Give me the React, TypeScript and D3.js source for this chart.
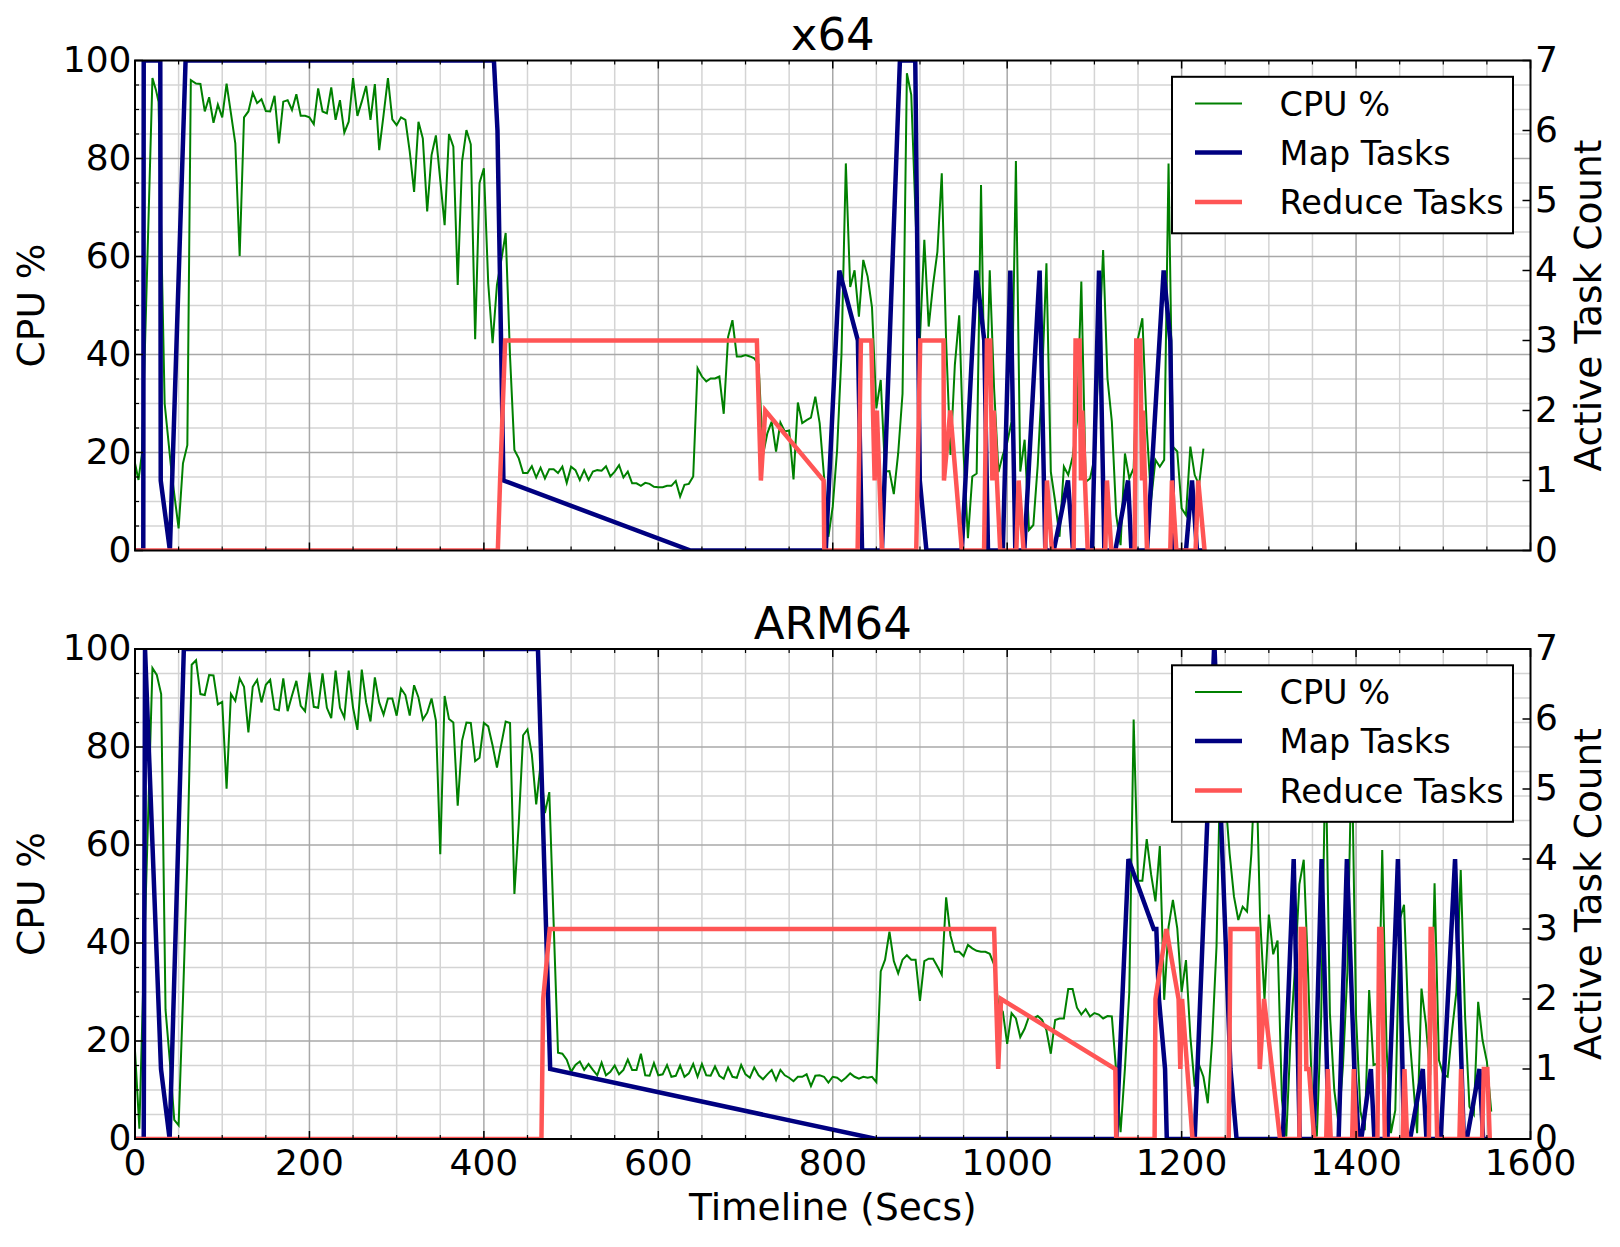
import React from 'react';
import * as d3 from 'd3';

type P = [number, number];

const xTicks = [0, 200, 400, 600, 800, 1000, 1200, 1400, 1600];
const cpuTicks = [0, 20, 40, 60, 80, 100];
const taskTicks = [0, 1, 2, 3, 4, 5, 6, 7];
const legendLabels = ['CPU %', 'Map Tasks', 'Reduce Tasks'];
const panelTitles = ['x64', 'ARM64'];

const x64Cpu: P[] = [[0,17.8],[4,14.4],[8,19.8],[20,96.4],[24,94],[27,91.6],[34,30],[42,15.8],[50,4.5],[55,17.8],[60,21.5],[64,96],[70,95.3],[75,95.2],[80,89.6],[85,92.5],[90,87.3],[95,91],[100,88.4],[105,95.3],[110,89.2],[115,83.1],[120,60.1],[125,88.4],[130,89.6],[135,93.4],[140,91.3],[145,92.1],[150,89.7],[155,89.6],[160,92.8],[165,83.1],[170,91.6],[175,91.9],[180,89.9],[185,93.1],[190,88.7],[195,88.7],[200,88.4],[205,87],[210,94.3],[215,89.6],[220,89.2],[225,94.5],[230,87.9],[235,91.9],[240,85.3],[245,87.5],[250,96.4],[255,88.7],[260,91.6],[265,94.8],[270,87.9],[275,95.2],[280,81.7],[285,88.9],[290,96.4],[295,88],[300,86.8],[305,88.4],[310,87.9],[315,81.4],[320,73.2],[325,87.5],[330,84.1],[335,69.2],[340,80.7],[345,84.7],[350,75.6],[355,66.4],[360,85],[365,82.4],[370,54.2],[375,79.4],[380,85.8],[385,82.9],[390,43.1],[395,75],[400,78],[405,54.5],[410,42.3],[415,54.2],[420,59.3],[425,64.8],[430,39.6],[435,20.5],[440,18.8],[445,15.8],[450,15.8],[455,17.2],[460,14.9],[465,16.9],[470,14.7],[475,16.6],[480,16.6],[485,15.8],[490,17.1],[495,13.8],[500,17.1],[505,16.4],[510,14.4],[515,16.4],[520,14.4],[525,16.1],[530,16.4],[535,16.3],[540,17.2],[545,15.1],[550,16.1],[555,17.4],[560,14.9],[565,16.1],[570,13.7],[575,13.7],[580,13.2],[585,13.8],[590,13.6],[595,13],[600,12.9],[605,12.9],[610,13.2],[615,13.2],[620,14.2],[625,11],[630,13.4],[635,13.6],[640,15.1],[645,37.2],[650,35.5],[655,34.5],[660,35.1],[665,35.1],[670,35.5],[675,27.9],[680,43.6],[685,47],[690,39.6],[695,39.6],[700,39.9],[705,39.6],[710,39.2],[715,38],[720,19.5],[725,23.9],[730,26.3],[735,20.2],[740,26.1],[745,24.3],[750,24.5],[755,14.5],[760,30.2],[765,26],[770,26.6],[775,27.1],[780,31.4],[785,26],[790,15.1],[795,2.8],[800,9],[805,20.5],[810,40],[815,79],[820,53.8],[825,57.2],[830,47.7],[835,59.3],[840,55.9],[845,49.6],[850,29],[855,34.8],[860,16.1],[865,16.2],[870,11.5],[875,19.8],[880,32],[885,97.4],[890,93],[895,68],[900,43.3],[905,63.4],[910,45.7],[915,54.2],[920,61],[925,77],[930,42.6],[935,19.5],[940,37.9],[945,48],[950,19.8],[955,2.5],[960,15.1],[965,15.7],[970,74.6],[975,22.9],[980,57.2],[985,33],[990,16],[995,19.5],[1000,22],[1005,26.3],[1010,79.5],[1015,16.1],[1020,22.6],[1025,4.2],[1030,5.2],[1035,17.4],[1040,35],[1045,58.6],[1050,16.1],[1055,10],[1060,2.8],[1065,17.1],[1070,15.4],[1075,19.1],[1080,26.3],[1085,54.9],[1090,14],[1095,14.7],[1100,18.8],[1105,40],[1110,61.3],[1115,35.1],[1120,26.3],[1125,7.2],[1130,1.1],[1135,19.8],[1140,14.7],[1145,16.8],[1150,43.3],[1155,47.4],[1160,25],[1165,10.3],[1170,18.5],[1175,17.1],[1180,18.5],[1185,79],[1190,21.2],[1195,20.2],[1200,8.6],[1205,7.2],[1210,21.2],[1215,15.4],[1220,13.4],[1225,20.8]];

const x64Map: P[] = [[0,0],[9.5,0],[10,7],[29,7],[29.5,1],[40,0],[58,7],[411.5,7],[415.6,6],[422.4,1],[637,0],[792,0],[807.5,4],[828.8,3],[833.6,0],[856.4,0],[877,7],[894.6,7],[899.8,1],[907.4,0],[948,0],[964.6,4],[973.7,3],[978,0],[995,0],[1003.6,4],[1009.3,0],[1019.6,0],[1037.2,4],[1043.7,0],[1053.4,0],[1069.7,1],[1075.4,0],[1097.3,0],[1105.3,4],[1111.4,0],[1124,0],[1138.6,1],[1142.4,0],[1160.3,0],[1179.4,4],[1187,3],[1190.9,0],[1205,0],[1211.9,1],[1217.6,0],[1226,0]];

const x64Reduce: P[] = [[0,0],[416,0],[418.6,1],[424.4,3],[713,3],[717.6,1],[722.6,2],[789.5,1],[790.3,0],[828.5,0],[832.3,3],[844.2,3],[848,1],[850.6,2],[856.4,0],[895.7,0],[900.3,3],[927,3],[927.5,1],[934.7,2],[948,0],[973.5,0],[976.8,3],[980.5,3],[983,1],[984.5,2],[992,0],[1010.5,0],[1013.1,1],[1018.8,0],[1043.7,0],[1045.6,1],[1051.3,0],[1076.2,0],[1078.4,3],[1083,3],[1084.6,1],[1086,2],[1092.3,0],[1112.5,0],[1114.4,1],[1119.4,0],[1146.1,0],[1148,3],[1152.6,3],[1154.6,1],[1155.6,2],[1160.3,0],[1187,0],[1188.9,1],[1194,0],[1216,0],[1219,1],[1226.3,0]];

const armCpu: P[] = [[0,18],[5,2.1],[10,35],[20,96.1],[25,94.7],[30,90.8],[35,26.4],[40,15.8],[45,3.9],[50,2.8],[55,28.5],[60,56.7],[65,96.8],[70,97.7],[75,90.8],[80,90.6],[85,94.7],[90,94.6],[95,88.7],[100,89.2],[105,71.5],[110,90.8],[115,89.4],[120,94],[125,92.3],[130,83],[135,92.3],[140,93.7],[145,89.1],[150,92.7],[155,93.7],[160,87.7],[165,87.5],[170,94],[175,87.3],[180,90.5],[185,93.5],[190,88.4],[195,87.3],[200,95.2],[205,88.2],[210,88],[215,95],[220,88],[225,85.9],[230,95.6],[235,88],[240,86],[245,95.6],[250,88],[255,83.5],[260,95.8],[265,89.1],[270,85.2],[275,94.2],[280,89.1],[285,86.6],[290,89.9],[295,89.9],[300,86.4],[305,91.9],[310,90.6],[315,86.4],[320,92.6],[325,90.1],[330,85.6],[335,87],[340,89.9],[345,85.4],[350,58.1],[355,90.4],[360,85.7],[365,85],[370,68],[375,81.3],[380,85],[385,84.9],[390,77.1],[395,77.8],[400,84.9],[405,84.2],[410,80.3],[415,75.8],[420,80.6],[425,85.2],[430,84.9],[435,50],[440,64.4],[445,82.4],[450,83.6],[455,78.5],[460,68.3],[465,76.4],[470,66.5],[475,70.8],[480,44],[485,17.6],[490,17.4],[495,16.2],[500,13.7],[505,15.1],[510,15.8],[515,14.1],[520,15.3],[525,14.1],[530,13],[535,15.6],[540,13],[545,13.7],[550,15],[555,13.2],[560,14.1],[565,16.2],[570,14.1],[575,14.1],[580,17.4],[585,13],[590,12.9],[595,15.5],[600,13],[605,13.2],[610,15.1],[615,12.7],[620,12.9],[625,15],[630,12.7],[635,13.4],[640,15.3],[645,12.7],[650,15.3],[655,13],[660,12.9],[665,14.8],[670,12.9],[675,12.3],[680,14.6],[685,12.7],[690,12.5],[695,15.1],[700,13.2],[705,12.5],[710,14.6],[715,13],[720,12.2],[725,13.2],[730,14.1],[735,12],[740,14.1],[745,13],[750,12.5],[755,11.8],[760,12.7],[765,12.7],[770,13.2],[775,10.8],[780,12.9],[785,13],[790,12.7],[795,11.5],[800,12.7],[805,12.5],[810,11.8],[815,12.5],[820,13.4],[825,12.7],[830,12.3],[835,12.7],[840,12.5],[845,12.7],[850,11.6],[855,34.2],[860,36.6],[865,42.3],[870,36.3],[875,33.8],[880,36.6],[885,37.5],[890,36.6],[895,36.6],[900,28.2],[905,36.3],[910,36.8],[915,36.8],[920,35.2],[925,33.5],[930,49.3],[935,41.5],[940,38.2],[945,38.2],[950,37.3],[955,39.6],[960,38.9],[965,38.4],[970,38.2],[975,38.2],[980,37.8],[985,35.6],[990,27],[995,26],[1000,19.4],[1005,25.7],[1010,24.6],[1015,20.8],[1020,22.5],[1025,25],[1030,24.6],[1035,25.1],[1040,24.3],[1045,22.2],[1050,17.4],[1055,24.3],[1060,24.6],[1065,24.6],[1070,30.6],[1075,30.6],[1080,26.8],[1085,25.4],[1090,26.5],[1095,25],[1100,25.7],[1105,25.4],[1110,24.6],[1115,25.1],[1120,25],[1125,13.7],[1130,1.4],[1135,14.4],[1140,30],[1145,85.6],[1150,52.7],[1155,52.7],[1160,61.2],[1165,54],[1170,48.5],[1175,59.8],[1180,28.4],[1185,43.3],[1190,48.8],[1195,43],[1200,30],[1205,36.5],[1210,20.9],[1215,10.7],[1220,15.1],[1225,12.7],[1230,7.3],[1235,20.2],[1240,39.3],[1245,82],[1250,70],[1255,58.3],[1260,49.5],[1265,44.7],[1270,47.4],[1275,46.4],[1280,58.3],[1285,80],[1290,45],[1295,28.5],[1300,45.8],[1305,37.7],[1310,40.5],[1315,8],[1320,0.5],[1325,21],[1330,35],[1335,52],[1340,57],[1345,34],[1350,6],[1355,0.5],[1360,25],[1365,80],[1370,25.6],[1375,10],[1380,3],[1385,15],[1390,34],[1395,80],[1400,25],[1405,5.6],[1410,1.8],[1415,30.4],[1420,15.1],[1425,15.4],[1430,59],[1435,18.5],[1440,1.2],[1445,5.9],[1450,44.7],[1455,47.8],[1460,24],[1465,12.7],[1470,1.2],[1475,30.7],[1480,23.6],[1485,13],[1490,52.2],[1495,16.1],[1500,13.1],[1505,12.7],[1510,22],[1515,30],[1520,54.9],[1525,25],[1530,6.6],[1535,5],[1540,28],[1545,20.2],[1550,15.8],[1555,5.6]];

const armMap: P[] = [[0,0],[10,0],[11.5,7],[29.8,1],[39.7,0],[56,7],[462,7],[476,1],[850,0],[1125,0],[1139,4],[1168,3],[1171,3],[1174,2],[1181,1],[1183,0],[1215,0],[1237.5,7.1],[1256,1],[1263,0],[1316,0],[1328.5,4],[1335.4,0],[1351.5,0],[1360.5,4],[1368.7,0],[1380,0],[1389.5,4],[1398,1],[1403,0],[1406,0],[1417,1],[1421,0],[1436,0],[1448,4],[1455,0],[1462,0],[1476.5,1],[1480.7,0],[1497,0],[1513.5,4],[1523.5,0],[1527,0],[1541.5,1],[1545.7,0],[1555,0]];

const armReduce: P[] = [[0,0],[466,0],[467,1],[468,2],[475.5,3],[985,3],[989.7,1],[993,2],[1124,1],[1125,0],[1169,0],[1170,2],[1182.5,3],[1196.5,2],[1198.5,1],[1200.5,2],[1212.5,0],[1254,0],[1256,3],[1287,3],[1289.6,1],[1294.5,2],[1312.8,0],[1335,0],[1336.5,3],[1340.5,3],[1343,1],[1346,1],[1352,0],[1365.8,0],[1367.5,1],[1371,0],[1395.5,0],[1397.4,1],[1400,0],[1424.5,0],[1426.5,3],[1429,3],[1430.5,2],[1433,0],[1453.5,0],[1455.5,1],[1458.5,0],[1483.5,0],[1485.5,3],[1487,3],[1489.5,2],[1493,0],[1518.5,0],[1520.4,1],[1523,0],[1544.5,0],[1546.5,1],[1550.5,1],[1553.3,0]];

const W = 1620;
const H = 1247;
const L = 135;
const R = 1530.5;
const FONT = "'DejaVu Sans', 'Liberation Sans', sans-serif";
const C_CPU = '#008000';
const C_MAP = '#000080';
const C_RED = '#ff5555';
const MINOR_GRID = '#d4d4d4';
const MAJOR_GRID = '#a8a8a8';

type PanelProps = {
  id: string;
  top: number;
  bottom: number;
  title: string;
  cpu: P[];
  map: P[];
  reduce: P[];
  showX: boolean;
};

function Panel({ id, top, bottom, title, cpu, map, reduce, showX }: PanelProps) {
  const x = d3.scaleLinear().domain([0, 1600]).range([L, R]);
  const yC = d3.scaleLinear().domain([0, 100]).range([bottom, top]);
  const yT = d3.scaleLinear().domain([0, 7]).range([bottom, top]);
  const lineC = d3.line<P>().x((d) => x(d[0])).y((d) => yC(d[1]));
  const lineT = d3.line<P>().x((d) => x(d[0])).y((d) => yT(d[1]));

  const minorX = d3.range(50, 1600, 50).filter((v) => v % 200 !== 0);
  const majorX = xTicks.filter((v) => v > 0 && v < 1600);
  const minorY = d3.range(5, 100, 5).filter((v) => v % 20 !== 0);
  const majorY = cpuTicks.filter((v) => v > 0 && v < 100);
  const allMinorX = d3.range(0, 1601, 50).filter((v) => v % 200 !== 0);
  const allMinorY = d3.range(0, 101, 5).filter((v) => v % 20 !== 0);

  const legTop = top + 16.3;
  const legLeft = 1172;
  const rows = [26.8, 75.8, 125.2];
  const legColors = [C_CPU, C_MAP, C_RED];
  const legWidths = [2, 4.5, 4.5];
  const midY = (top + bottom) / 2;

  return (
    <g>
      <defs>
        <clipPath id={id}>
          <rect x={L} y={top} width={R - L} height={bottom - top} />
        </clipPath>
      </defs>
      {/* grid */}
      {minorX.map((v) => (
        <line key={'mx' + v} x1={x(v)} x2={x(v)} y1={top} y2={bottom} stroke={MINOR_GRID} strokeWidth={1.5} />
      ))}
      {minorY.map((v) => (
        <line key={'my' + v} x1={L} x2={R} y1={yC(v)} y2={yC(v)} stroke={MINOR_GRID} strokeWidth={1.5} />
      ))}
      {majorX.map((v) => (
        <line key={'Mx' + v} x1={x(v)} x2={x(v)} y1={top} y2={bottom} stroke={MAJOR_GRID} strokeWidth={1.5} />
      ))}
      {majorY.map((v) => (
        <line key={'My' + v} x1={L} x2={R} y1={yC(v)} y2={yC(v)} stroke={MAJOR_GRID} strokeWidth={1.5} />
      ))}
      {/* series */}
      <g clipPath={`url(#${id})`}>
        <path d={lineC(cpu) || ''} fill="none" stroke={C_CPU} strokeWidth={2} strokeLinejoin="miter" />
        <path d={lineT(map) || ''} fill="none" stroke={C_MAP} strokeWidth={4.5} strokeLinejoin="miter" />
        <path d={lineT(reduce) || ''} fill="none" stroke={C_RED} strokeWidth={4.5} strokeLinejoin="miter" />
      </g>
      {/* ticks */}
      {xTicks.map((v) => (
        <g key={'xt' + v}>
          <line x1={x(v)} x2={x(v)} y1={bottom} y2={bottom - 8} stroke="#000" strokeWidth={1.5} />
          <line x1={x(v)} x2={x(v)} y1={top} y2={top + 8} stroke="#000" strokeWidth={1.5} />
        </g>
      ))}
      {allMinorX.map((v) => (
        <g key={'xm' + v}>
          <line x1={x(v)} x2={x(v)} y1={bottom} y2={bottom - 4} stroke="#000" strokeWidth={1.2} />
          <line x1={x(v)} x2={x(v)} y1={top} y2={top + 4} stroke="#000" strokeWidth={1.2} />
        </g>
      ))}
      {cpuTicks.map((v) => (
        <line key={'yt' + v} x1={L} x2={L + 8} y1={yC(v)} y2={yC(v)} stroke="#000" strokeWidth={1.5} />
      ))}
      {allMinorY.map((v) => (
        <line key={'ym' + v} x1={L} x2={L + 4} y1={yC(v)} y2={yC(v)} stroke="#000" strokeWidth={1.2} />
      ))}
      {taskTicks.map((v) => (
        <line key={'tt' + v} x1={R} x2={R - 8} y1={yT(v)} y2={yT(v)} stroke="#000" strokeWidth={1.5} />
      ))}
      {/* spines */}
      <rect x={L} y={top} width={R - L} height={bottom - top} fill="none" stroke="#000" strokeWidth={2} />
      {/* tick labels */}
      {cpuTicks.map((v) => (
        <text key={'yl' + v} x={131.5} y={yC(v) + 11} textAnchor="end" fontSize={36} fontFamily={FONT} fill="#000">
          {v}
        </text>
      ))}
      {taskTicks.map((v) => (
        <text key={'tl' + v} x={1535} y={yT(v) + 11} textAnchor="start" fontSize={36} fontFamily={FONT} fill="#000">
          {v}
        </text>
      ))}
      {showX &&
        xTicks.map((v) => (
          <text key={'xl' + v} x={x(v)} y={bottom + 36} textAnchor="middle" fontSize={36} fontFamily={FONT} fill="#000">
            {v}
          </text>
        ))}
      {/* title */}
      <text x={(L + R) / 2} y={top - 10.5} textAnchor="middle" fontSize={45} fontFamily={FONT} fill="#000">
        {title}
      </text>
      {/* axis labels */}
      <text transform={`translate(44,${midY}) rotate(-90)`} textAnchor="middle" fontSize={37.5} fontFamily={FONT} fill="#000">
        CPU %
      </text>
      <text transform={`translate(1601,${midY}) rotate(-90)`} textAnchor="middle" fontSize={37.5} fontFamily={FONT} fill="#000">
        Active Task Count
      </text>
      {showX && (
        <text x={(L + R) / 2} y={1220} textAnchor="middle" fontSize={37.5} fontFamily={FONT} fill="#000">
          Timeline (Secs)
        </text>
      )}
      {/* legend */}
      <rect x={legLeft} y={legTop} width={341} height={156.5} fill="#fff" stroke="#000" strokeWidth={2} />
      {legendLabels.map((lab, i) => (
        <g key={lab}>
          <line x1={1195} x2={1242} y1={legTop + rows[i]} y2={legTop + rows[i]} stroke={legColors[i]} strokeWidth={legWidths[i]} />
          <text x={1279.5} y={legTop + rows[i] + 12} fontSize={33.5} fontFamily={FONT} fill="#000">
            {lab}
          </text>
        </g>
      ))}
    </g>
  );
}

export default function App() {
  return (
    <svg
      width={W}
      height={H}
      viewBox={`0 0 ${W} ${H}`}
      style={{ position: 'absolute', left: 0, top: 0, display: 'block', background: '#fff' }}
    >
      <rect x={0} y={0} width={W} height={H} fill="#fff" />
      <Panel id="clipTop" top={60.5} bottom={550.5} title={panelTitles[0]} cpu={x64Cpu} map={x64Map} reduce={x64Reduce} showX={false} />
      <Panel id="clipBottom" top={649} bottom={1139} title={panelTitles[1]} cpu={armCpu} map={armMap} reduce={armReduce} showX={true} />
    </svg>
  );
}
